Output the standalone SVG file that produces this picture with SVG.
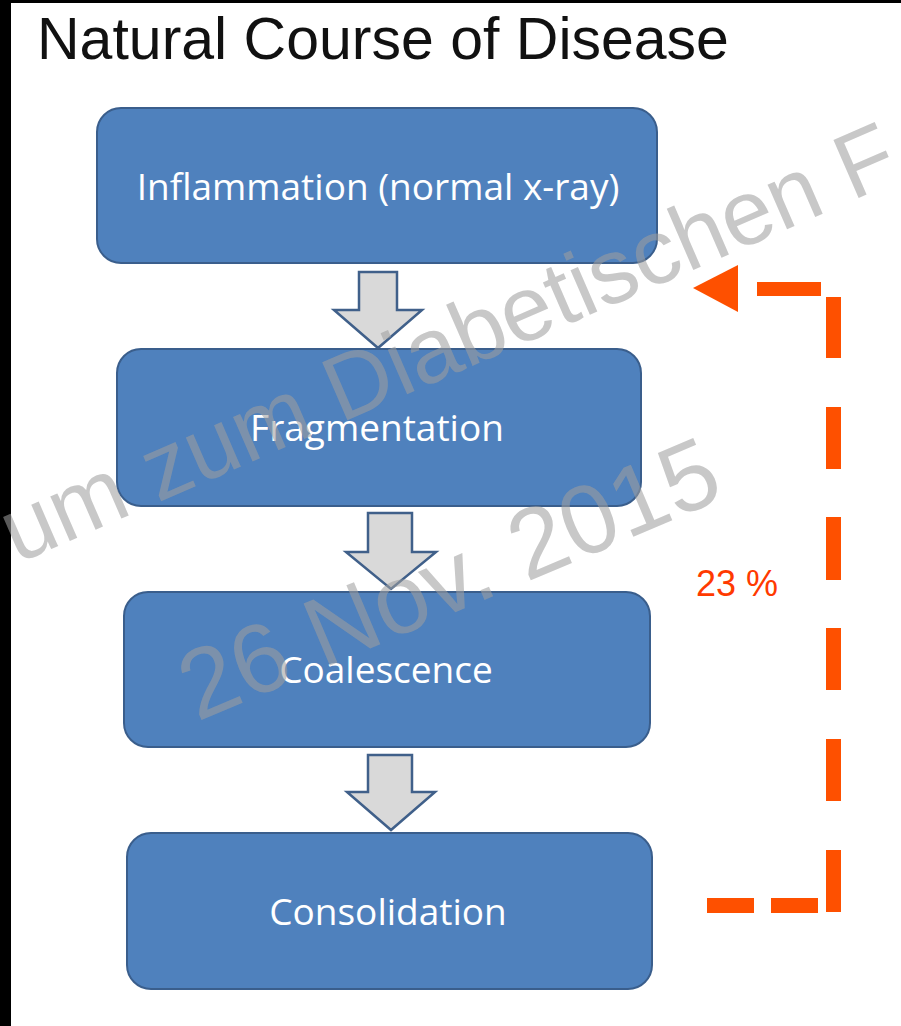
<svg xmlns="http://www.w3.org/2000/svg" width="901" height="1026" viewBox="0 0 901 1026">
  <style>
    .box { fill: #4f81bd; stroke: #3a5e8c; stroke-width: 2; }
    .lbl { fill: #ffffff; font-family: "Open Sans", "Noto Sans", sans-serif; font-size: 37px; text-anchor: middle; }
    .blk { fill: #d9d9d9; stroke: #40608a; stroke-width: 2.5; stroke-linejoin: miter; }
    .fb { fill: #fe5000; }
    .wm { fill: #9f9f9f; fill-opacity: 0.57; font-family: "Liberation Sans", Arial, sans-serif; }
  </style>
  <rect x="0" y="0" width="901" height="1026" fill="#ffffff"/>
  <rect x="0" y="0" width="901" height="3" fill="#000000"/>
  <rect x="0" y="0" width="11" height="1026" fill="#000000"/>

  <text id="title" x="37" y="59" font-family="'Liberation Sans', Arial, sans-serif" font-size="59" fill="#111111">Natural Course of Disease</text>

  <g id="node-inflammation">
    <rect class="box" x="97" y="108" width="560" height="155" rx="24"/>
    <text class="lbl" x="378" y="200">Inflammation (normal x-ray)</text>
  </g>
  <g id="node-fragmentation">
    <rect class="box" x="117" y="349" width="524" height="157" rx="24"/>
    <text class="lbl" x="377" y="441">Fragmentation</text>
  </g>
  <g id="node-coalescence">
    <rect class="box" x="124" y="592" width="526" height="155" rx="24"/>
    <text class="lbl" x="386" y="683">Coalescence</text>
  </g>
  <g id="node-consolidation">
    <rect class="box" x="127" y="833" width="525" height="156" rx="24"/>
    <text class="lbl" x="388" y="925">Consolidation</text>
  </g>

  <g id="connectors">
    <path class="blk" d="M359 272 H397 V310 H422 L378 348 L334 310 H359 Z"/>
    <path class="blk" d="M368 513 H412 V552 H436 L391 589 L346 552 H368 Z"/>
    <path class="blk" d="M368 755 H412 V792 H435 L391 830 L347 792 H368 Z"/>
    <g id="feedback-23">
      <rect class="fb" x="707" y="898" width="47" height="15"/>
      <rect class="fb" x="771" y="898" width="47" height="15"/>
      <rect class="fb" x="826" y="850" width="15" height="62"/>
      <rect class="fb" x="826" y="739" width="15" height="62"/>
      <rect class="fb" x="826" y="628" width="15" height="62"/>
      <rect class="fb" x="826" y="517" width="15" height="63"/>
      <rect class="fb" x="826" y="407" width="15" height="62"/>
      <rect class="fb" x="826" y="297" width="15" height="61"/>
      <rect class="fb" x="757" y="282" width="64" height="14"/>
      <polygon class="fb" points="693,288 738,265 738,312"/>
    </g>
  </g>
  <text id="label-23" x="696" y="596" font-family="'Liberation Sans', Arial, sans-serif" font-size="36" fill="#ff3a00">23 %</text>

  <g id="watermark">
    <text class="wm" font-size="92" transform="translate(17 564) rotate(-23.5)">um zum Diabetischen F</text>
    <text class="wm" font-size="98" transform="translate(197 722) rotate(-23)">26 Nov. 2015</text>
  </g>
</svg>
